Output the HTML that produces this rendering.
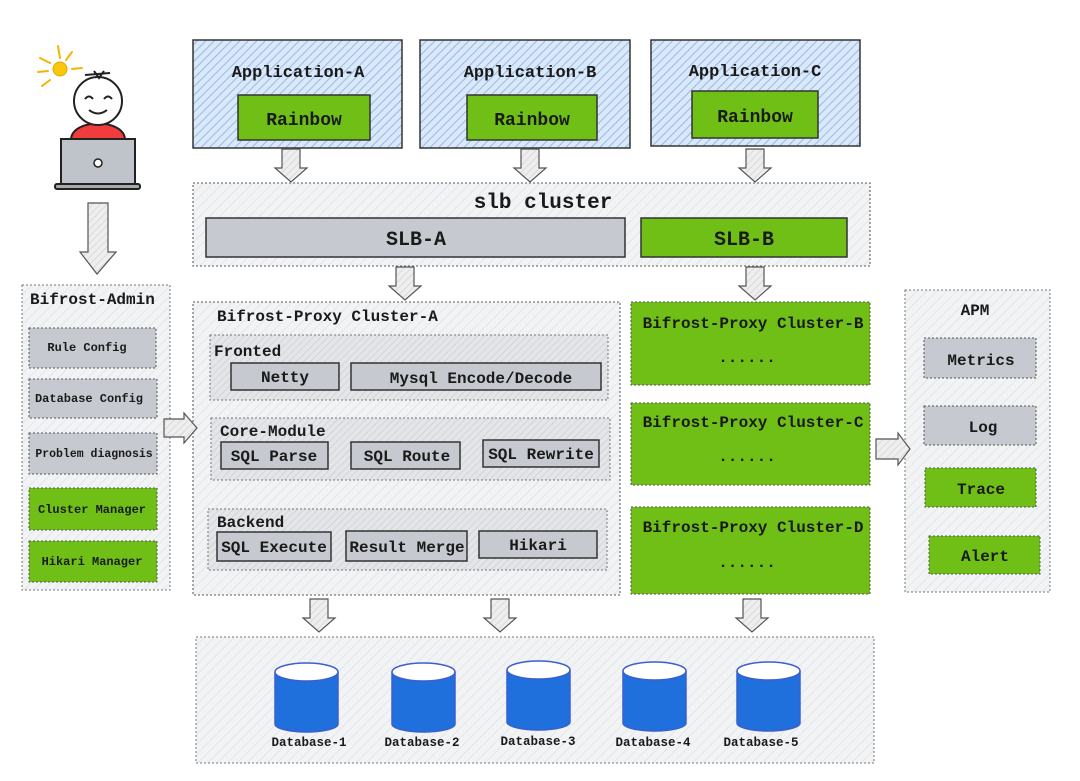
<!DOCTYPE html>
<html><head><meta charset="utf-8"><style>
html,body{margin:0;padding:0;background:#fff;width:1080px;height:781px;overflow:hidden}
svg text{font-family:"Liberation Mono",monospace;font-weight:bold;fill:#1a1a1a}
</style></head><body>
<svg width="1080" height="781" viewBox="0 0 1080 781" xmlns="http://www.w3.org/2000/svg">
<defs>
<pattern id="hb" width="6" height="6" patternUnits="userSpaceOnUse" patternTransform="rotate(45)">
<rect width="6" height="6" fill="#dbe8f8"/><line x1="0" y1="0" x2="0" y2="6" stroke="#7fb0e8" stroke-width="1.6"/></pattern>
<pattern id="hg" width="7" height="7" patternUnits="userSpaceOnUse" patternTransform="rotate(45)">
<rect width="7" height="7" fill="#f2f3f5"/><line x1="0" y1="0" x2="0" y2="7" stroke="#d8dade" stroke-width="1"/></pattern>
<pattern id="hd" width="5" height="5" patternUnits="userSpaceOnUse" patternTransform="rotate(45)">
<rect width="5" height="5" fill="#e4e5e8"/><line x1="0" y1="0" x2="0" y2="5" stroke="#c4c6cb" stroke-width="1"/></pattern>
<pattern id="ha" width="5" height="5" patternUnits="userSpaceOnUse" patternTransform="rotate(45)">
<rect width="5" height="5" fill="#eeeeee"/><line x1="0" y1="0" x2="0" y2="5" stroke="#c8c8c8" stroke-width="1"/></pattern>
<g id="ad"><path d="M-9,0 H9 V19 H16 L0,33 L-16,19 H-9 Z" fill="url(#ha)" stroke="#555" stroke-width="1.2"/></g>
</defs>

<!-- person -->
<g stroke="#f5b400" stroke-width="2" stroke-linecap="round">
<line x1="40" y1="58" x2="50" y2="63"/><line x1="38" y1="72" x2="48" y2="71"/><line x1="42" y1="86" x2="50" y2="80"/>
<line x1="58" y1="46" x2="60" y2="58"/><line x1="72" y1="52" x2="66" y2="60"/><line x1="72" y1="69" x2="82" y2="68"/></g>
<circle cx="60" cy="69" r="7" fill="#f9c80e" stroke="#e0a800"/>
<path d="M71,140 C71,118 125,118 125,140 Z" fill="#f03c3c" stroke="#222" stroke-width="2"/>
<circle cx="98" cy="101" r="24" fill="#fff" stroke="#222" stroke-width="2"/>
<path d="M85,75 L110,73 M94,71 L99,78 L104,71" stroke="#222" stroke-width="2" fill="none"/>
<path d="M85,99 q4,-5 8,0 M104,99 q4,-5 8,0 M89,110 q9,7 18,0" stroke="#222" stroke-width="2" fill="none"/>
<rect x="61" y="139" width="74" height="46" fill="#bfc3ca" stroke="#222" stroke-width="2"/>
<rect x="55" y="184" width="85" height="5" rx="2" fill="#aaa" stroke="#222" stroke-width="2"/>
<circle cx="98" cy="163" r="4" fill="#fff" stroke="#222" stroke-width="1.5"/>
<path d="M88,203 H108 V252 H116 L97,274 L80,252 H88 Z" fill="url(#ha)" stroke="#555" stroke-width="1.2"/>

<!-- applications -->
<rect x="193" y="40" width="209" height="108" fill="url(#hb)" stroke="#333" stroke-width="1.5"/>
<rect x="420" y="40" width="210" height="108" fill="url(#hb)" stroke="#333" stroke-width="1.5"/>
<rect x="651" y="40" width="209" height="106" fill="url(#hb)" stroke="#333" stroke-width="1.5"/>
<text x="298" y="77" font-size="17" text-anchor="middle">Application-A</text>
<text x="530" y="77" font-size="17" text-anchor="middle">Application-B</text>
<text x="755" y="76" font-size="17" text-anchor="middle">Application-C</text>
<rect x="238" y="95" width="132" height="45" fill="#6fbf17" stroke="#333" stroke-width="1.5"/>
<rect x="467" y="95" width="130" height="45" fill="#6fbf17" stroke="#333" stroke-width="1.5"/>
<rect x="692" y="91" width="126" height="47" fill="#6fbf17" stroke="#333" stroke-width="1.5"/>
<text x="304" y="125" font-size="18" text-anchor="middle">Rainbow</text>
<text x="532" y="125" font-size="18" text-anchor="middle">Rainbow</text>
<text x="755" y="122" font-size="18" text-anchor="middle">Rainbow</text>
<use href="#ad" x="291" y="149"/><use href="#ad" x="530" y="149"/><use href="#ad" x="755" y="149"/>

<!-- slb -->
<rect x="193" y="183" width="677" height="83" fill="url(#hg)" stroke="#777" stroke-width="1.3" stroke-dasharray="2,2"/>
<text x="543" y="208" font-size="21" text-anchor="middle">slb cluster</text>
<rect x="206" y="218" width="419" height="39" fill="#c6c9cf" stroke="#333" stroke-width="1.5"/>
<rect x="641" y="218" width="206" height="39" fill="#6fbf17" stroke="#333" stroke-width="1.5"/>
<text x="416" y="245" font-size="20" text-anchor="middle">SLB-A</text>
<text x="744" y="245" font-size="20" text-anchor="middle">SLB-B</text>
<use href="#ad" x="405" y="267"/><use href="#ad" x="755" y="267"/>

<!-- proxy A -->
<rect x="193" y="302" width="427" height="293" fill="url(#hg)" stroke="#777" stroke-width="1.3" stroke-dasharray="2,2"/>
<text x="217" y="321" font-size="16">Bifrost-Proxy Cluster-A</text>
<rect x="210" y="335" width="398" height="65" fill="url(#hd)" stroke="#777" stroke-dasharray="2,2"/>
<text x="214" y="356" font-size="16">Fronted</text>
<rect x="231" y="363" width="108" height="27" fill="#c6c9cf" stroke="#333" stroke-width="1.5"/>
<rect x="351" y="363" width="250" height="27" fill="#c6c9cf" stroke="#333" stroke-width="1.5"/>
<text x="285" y="382" font-size="16" text-anchor="middle">Netty</text>
<text x="481" y="383" font-size="16" text-anchor="middle">Mysql Encode/Decode</text>
<rect x="211" y="418" width="399" height="62" fill="url(#hd)" stroke="#777" stroke-dasharray="2,2"/>
<text x="220" y="436" font-size="16">Core-Module</text>
<rect x="221" y="442" width="107" height="27" fill="#c6c9cf" stroke="#333" stroke-width="1.5"/>
<rect x="351" y="442" width="109" height="27" fill="#c6c9cf" stroke="#333" stroke-width="1.5"/>
<rect x="483" y="440" width="116" height="27" fill="#c6c9cf" stroke="#333" stroke-width="1.5"/>
<text x="274" y="461" font-size="16" text-anchor="middle">SQL Parse</text>
<text x="407" y="461" font-size="16" text-anchor="middle">SQL Route</text>
<text x="541" y="459" font-size="16" text-anchor="middle">SQL Rewrite</text>
<rect x="208" y="509" width="399" height="61" fill="url(#hd)" stroke="#777" stroke-dasharray="2,2"/>
<text x="217" y="527" font-size="16">Backend</text>
<rect x="217" y="532" width="114" height="29" fill="#c6c9cf" stroke="#333" stroke-width="1.5"/>
<rect x="346" y="531" width="121" height="30" fill="#c6c9cf" stroke="#333" stroke-width="1.5"/>
<rect x="479" y="531" width="118" height="27" fill="#c6c9cf" stroke="#333" stroke-width="1.5"/>
<text x="274" y="552" font-size="16" text-anchor="middle">SQL Execute</text>
<text x="407" y="552" font-size="16" text-anchor="middle">Result Merge</text>
<text x="538" y="550" font-size="16" text-anchor="middle">Hikari</text>

<!-- clusters B C D -->
<rect x="631" y="302" width="239" height="83" fill="#6fbf17" stroke="#555" stroke-dasharray="2,2"/>
<rect x="631" y="403" width="239" height="82" fill="#6fbf17" stroke="#555" stroke-dasharray="2,2"/>
<rect x="631" y="507" width="239" height="87" fill="#6fbf17" stroke="#555" stroke-dasharray="2,2"/>
<text x="753" y="328" font-size="16" text-anchor="middle">Bifrost-Proxy Cluster-B</text>
<text x="747" y="362" font-size="16" text-anchor="middle">......</text>
<text x="753" y="427" font-size="16" text-anchor="middle">Bifrost-Proxy Cluster-C</text>
<text x="747" y="461" font-size="16" text-anchor="middle">......</text>
<text x="753" y="532" font-size="16" text-anchor="middle">Bifrost-Proxy Cluster-D</text>
<text x="747" y="567" font-size="16" text-anchor="middle">......</text>

<!-- APM -->
<rect x="905" y="290" width="145" height="302" fill="url(#hg)" stroke="#777" stroke-dasharray="2,2"/>
<text x="975" y="315" font-size="16" text-anchor="middle">APM</text>
<rect x="924" y="338" width="112" height="40" fill="#c6c9cf" stroke="#555" stroke-dasharray="2,2"/>
<rect x="924" y="406" width="112" height="39" fill="#c6c9cf" stroke="#555" stroke-dasharray="2,2"/>
<rect x="925" y="468" width="111" height="39" fill="#6fbf17" stroke="#555" stroke-dasharray="2,2"/>
<rect x="929" y="536" width="111" height="38" fill="#6fbf17" stroke="#555" stroke-dasharray="2,2"/>
<text x="981" y="365" font-size="16" text-anchor="middle">Metrics</text>
<text x="983" y="432" font-size="16" text-anchor="middle">Log</text>
<text x="981" y="494" font-size="16" text-anchor="middle">Trace</text>
<text x="985" y="561" font-size="16" text-anchor="middle">Alert</text>
<path d="M876,439 H898 V433 L910,449 L898,465 V459 H876 Z" fill="url(#ha)" stroke="#555" stroke-width="1.2"/>

<!-- Admin -->
<rect x="22" y="285" width="148" height="305" fill="url(#hg)" stroke="#777" stroke-dasharray="2,2"/>
<text x="30" y="304" font-size="16">Bifrost-Admin</text>
<rect x="29" y="328" width="127" height="40" fill="#c6c9cf" stroke="#555" stroke-dasharray="2,2"/>
<rect x="29" y="379" width="128" height="39" fill="#c6c9cf" stroke="#555" stroke-dasharray="2,2"/>
<rect x="29" y="433" width="128" height="41" fill="#c6c9cf" stroke="#555" stroke-dasharray="2,2"/>
<rect x="29" y="488" width="128" height="42" fill="#6fbf17" stroke="#555" stroke-dasharray="2,2"/>
<rect x="29" y="541" width="128" height="41" fill="#6fbf17" stroke="#555" stroke-dasharray="2,2"/>
<text x="87" y="351" font-size="12" text-anchor="middle">Rule Config</text>
<text x="89" y="402" font-size="12" text-anchor="middle">Database Config</text>
<text x="94" y="457" font-size="11.5" text-anchor="middle">Problem diagnosis</text>
<text x="92" y="513" font-size="12" text-anchor="middle">Cluster Manager</text>
<text x="92" y="565" font-size="12" text-anchor="middle">Hikari Manager</text>
<path d="M164,419 H184 V413 L197,428 L184,443 V437 H164 Z" fill="url(#ha)" stroke="#555" stroke-width="1.2"/>

<!-- DB -->
<use href="#ad" x="319" y="599"/><use href="#ad" x="500" y="599"/><use href="#ad" x="752" y="599"/>
<rect x="196" y="637" width="678" height="126" fill="url(#hg)" stroke="#777" stroke-dasharray="2,2"/>
<g stroke="#3a5fcf" stroke-width="1.5">
<g transform="translate(275,662)"><path d="M0,10 V62 A31.5,8 0 0 0 63,62 V10" fill="#1f6fdc"/><ellipse cx="31.5" cy="10" rx="31.5" ry="9" fill="#fff"/></g>
<g transform="translate(392,662)"><path d="M0,10 V62 A31.5,8 0 0 0 63,62 V10" fill="#1f6fdc"/><ellipse cx="31.5" cy="10" rx="31.5" ry="9" fill="#fff"/></g>
<g transform="translate(507,660)"><path d="M0,10 V62 A31.5,8 0 0 0 63,62 V10" fill="#1f6fdc"/><ellipse cx="31.5" cy="10" rx="31.5" ry="9" fill="#fff"/></g>
<g transform="translate(623,661)"><path d="M0,10 V62 A31.5,8 0 0 0 63,62 V10" fill="#1f6fdc"/><ellipse cx="31.5" cy="10" rx="31.5" ry="9" fill="#fff"/></g>
<g transform="translate(737,661)"><path d="M0,10 V62 A31.5,8 0 0 0 63,62 V10" fill="#1f6fdc"/><ellipse cx="31.5" cy="10" rx="31.5" ry="9" fill="#fff"/></g>
</g>
<text x="309" y="746" font-size="12.5" text-anchor="middle">Database-1</text>
<text x="422" y="746" font-size="12.5" text-anchor="middle">Database-2</text>
<text x="538" y="745" font-size="12.5" text-anchor="middle">Database-3</text>
<text x="653" y="746" font-size="12.5" text-anchor="middle">Database-4</text>
<text x="761" y="746" font-size="12.5" text-anchor="middle">Database-5</text>
</svg>
</body></html>
